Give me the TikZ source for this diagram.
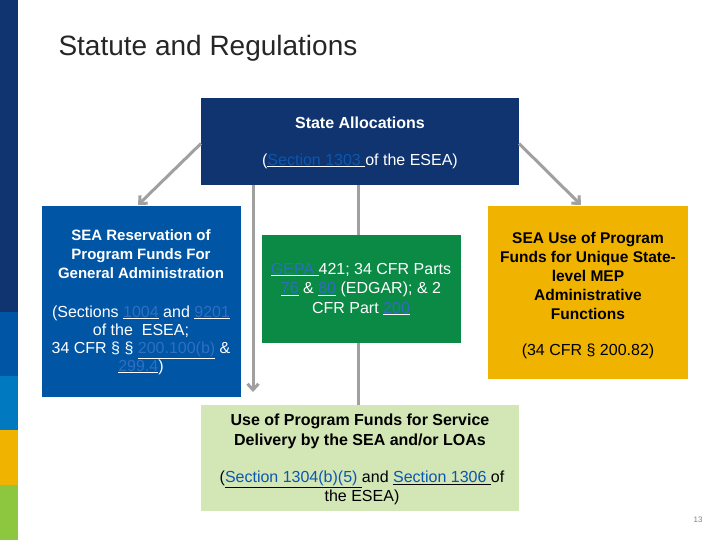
\documentclass[tikz,border=0pt]{standalone}
\usepackage{fontspec}
\setmainfont{Liberation Sans}
\usetikzlibrary{arrows.meta}
\definecolor{navy}{HTML}{0F3470}
\definecolor{seablue}{HTML}{0055A5}
\definecolor{midblue}{HTML}{0079C1}
\definecolor{gr}{HTML}{0A8A44}
\definecolor{yel}{HTML}{F0B400}
\definecolor{lgreen}{HTML}{8DC63F}
\definecolor{pale}{HTML}{D3E6B5}
\definecolor{lnk}{HTML}{2E6FC0}
\definecolor{lnkd}{HTML}{0B57B0}
\definecolor{conn}{HTML}{A0A0A0}
\newcommand{\lk}[1]{\underline{\textcolor{lnk}{#1}}}
\newcommand{\lkd}[1]{\underline{\textcolor{lnkd}{#1}}}
\tikzset{box/.style={anchor=north west,inner sep=0pt,outer sep=0pt},
 arr/.style={draw=conn,line width=3pt,-{Straight Barb[length=6pt,width=11pt]}}}
\begin{document}
\begin{tikzpicture}[x=1pt,y=-1pt,font=\fontsize{16}{19}\selectfont]
\useasboundingbox (0,0) rectangle (720,540);
\fill[navy] (0,0) rectangle (18,312);
\fill[seablue] (0,312) rectangle (18,376);
\fill[midblue] (0,376) rectangle (18,430);
\fill[yel] (0,430) rectangle (18,485);
\fill[lgreen] (0,485) rectangle (18,540);
\node[anchor=west,font=\fontsize{28}{32}\selectfont,text=black!85] (title) at (55,48) {Statute and Regulations};
% boxes
\node[box,fill=navy,minimum width=318pt,minimum height=87pt] (sa) at (201,98) {};
\node[box,fill=seablue,minimum width=199pt,minimum height=191pt] (res) at (42,206) {};
\node[box,fill=gr,minimum width=199pt,minimum height=108pt] (gepa) at (262,235) {};
\node[box,fill=yel,minimum width=200pt,minimum height=173pt] (use) at (488,206) {};
\node[box,fill=pale,minimum width=318pt,minimum height=106pt] (svc) at (201,405) {};
% connectors
\coordinate (lt) at (138,205);
\coordinate (rt) at (581,205);
\coordinate (dn) at (253,392);
\draw[draw=conn,line width=3pt] (sa.south -| 358,0) -- (svc.north -| 358,0);
\draw[arr] (sa.south -| dn) -- (dn);
\draw[arr] (sa.west) ++(0,2) -- (lt);
\draw[arr] (sa.east) ++(0,2) -- (rt);
\fill[gr] (gepa.north west) rectangle (gepa.south east);
% texts
\node[text=white,font=\fontsize{16}{19}\selectfont\bfseries] (t1) at (360,123) {State Allocations};
\node[text=white] (t2) at (360,161) {(\lkd{Section 1303 }of the ESEA)};
\node[text=white,font=\fontsize{15}{19}\selectfont\bfseries,align=center] (t3) at (141,254) {SEA Reservation of\\Program Funds For\\General Administration};
\node[text=white,align=center,font=\fontsize{16}{18}\selectfont] (t4) at (141,340) {(Sections \lk{1004} and \lk{9201}\\of the~ ESEA;\\34 CFR § § \lk{200.100(b)} \&\\\lk{299.4})};
\node[text=white,align=center,font=\fontsize{16}{19.5}\selectfont] (t5) at (361,289) {\lk{GEPA }421; 34 CFR Parts\\\lk{76} \& \lk{80} (EDGAR); \& 2\\CFR Part \lk{200}};
\node[text=black,font=\fontsize{15.5}{19}\selectfont\bfseries,align=center] (t6) at (588,276) {SEA Use of Program\\Funds for Unique State-\\level MEP\\Administrative\\Functions};
\node[text=black] (t7) at (588,351) {(34 CFR § 200.82)};
\node[text=black,font=\fontsize{16}{20}\selectfont\bfseries,align=center] (t8) at (360,431) {Use of Program Funds for Service\\Delivery by the SEA and/or LOAs};
\node[text=black,align=center,font=\fontsize{16}{19}\selectfont] (t9) at (362,488) {(\lkd{Section 1304(b)(5) }and \lkd{Section 1306 }of\\the ESEA)};
\node[text=gray,font=\fontsize{8}{9}\selectfont] (pg) at (698,520) {13};
\end{tikzpicture}
\end{document}
